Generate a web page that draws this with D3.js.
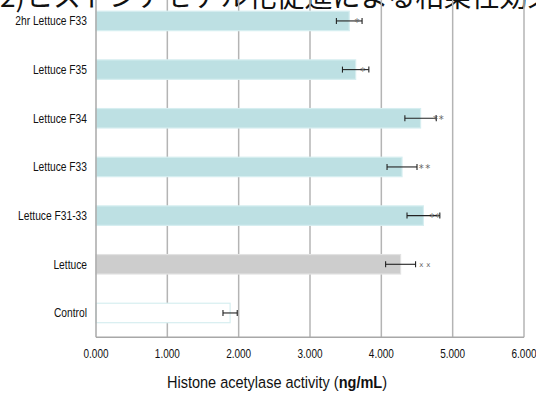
<!DOCTYPE html>
<html>
<head>
<meta charset="utf-8">
<script src="https://cdn.jsdelivr.net/npm/d3@7"></script>
<style>
  body { margin: 0; background: #fff; }
  svg { display: block; }
</style>
</head>
<body>
<svg id="chart" width="536" height="393"></svg>
<script>
// categories, top to bottom
const categories = ["2hr Lettuce F33", "Lettuce F35", "Lettuce F34", "Lettuce F33", "Lettuce F31-33", "Lettuce", "Control"];
const values = [3.55, 3.64, 4.55, 4.29, 4.59, 4.27, 1.88];
const errors = [0.18, 0.185, 0.22, 0.21, 0.23, 0.21, 0.10];
// significance marks: glyph and where each one sits (in ng/mL units)
const markGlyphs = ["*", "*", "*", "*", "*", "x", ""];
const markPos = [[3.66], [3.74], [4.76, 4.84], [4.56, 4.65], [4.71, 4.79], [4.56, 4.66], []];
const xTicks = [0, 1, 2, 3, 4, 5, 6];

const svg = d3.select("#chart");
const sans = "'Liberation Sans', Arial, sans-serif";

const plotLeft = 96, plotRight = 524, plotTop = -3.4, plotBottom = 337.3;

const x = d3.scaleLinear().domain([0, 6]).range([plotLeft, plotRight]);
const y = d3.scaleBand().domain(categories).range([plotTop, plotBottom])
    .paddingInner(0.6).paddingOuter(0.3);

// title (clipped at the top of the picture)
svg.append("text")
    .attr("x", 0)
    .attr("y", 7)
    .attr("font-family", "'Noto Sans CJK JP', sans-serif")
    .attr("font-size", 28)
    .attr("fill", "#111")
    .text("2)ヒストンアセチル化促進による相乗性効果");

// gridlines
svg.append("g").selectAll("line")
    .data(xTicks.slice(1))
    .join("line")
    .attr("x1", d => x(d)).attr("x2", d => x(d))
    .attr("y1", plotTop).attr("y2", plotBottom)
    .attr("stroke", "#b4b4b4")
    .attr("stroke-width", 1.5);

// bars
svg.append("g").selectAll("rect")
    .data(categories)
    .join("rect")
    .attr("x", x(0))
    .attr("y", d => y(d))
    .attr("width", (d, i) => x(values[i]) - x(0))
    .attr("height", y.bandwidth())
    .attr("fill", d => d === "Lettuce" ? "#cdcdcd" : d === "Control" ? "#ffffff" : "#bde0e3")
    .attr("stroke", d => d === "Lettuce" ? "#e2e2e2" : "#d6eef0")
    .attr("stroke-width", 1.2);

// axes lines
svg.append("line")
    .attr("x1", x(0)).attr("x2", x(0))
    .attr("y1", plotTop).attr("y2", plotBottom)
    .attr("stroke", "#a8a8a8").attr("stroke-width", 1.5);
svg.append("line")
    .attr("x1", x(0)).attr("x2", x(6))
    .attr("y1", plotBottom).attr("y2", plotBottom)
    .attr("stroke", "#a8a8a8").attr("stroke-width", 1.5);

// error bars
const eb = svg.append("g").attr("stroke", "#222").attr("stroke-width", 1.1);
categories.forEach((c, i) => {
    const cy = y(c) + y.bandwidth() / 2;
    const x1 = x(values[i] - errors[i]), x2 = x(values[i] + errors[i]);
    eb.append("line").attr("x1", x1).attr("x2", x2).attr("y1", cy).attr("y2", cy);
    eb.append("line").attr("x1", x1).attr("x2", x1).attr("y1", cy - 3).attr("y2", cy + 3);
    eb.append("line").attr("x1", x2).attr("x2", x2).attr("y1", cy - 3).attr("y2", cy + 3);
});

// significance marks
const mk = svg.append("g")
    .attr("font-family", "'DejaVu Sans', sans-serif")
    .attr("fill", "#666")
    .attr("text-anchor", "middle");
categories.forEach((c, i) => {
    const cy = y(c) + y.bandwidth() / 2;
    markPos[i].forEach(p => {
        mk.append("text")
            .attr("x", x(p))
            .attr("y", markGlyphs[i] === "*" ? cy + 5 : cy + 2.5)
            .attr("font-size", markGlyphs[i] === "*" ? 10 : 7)
            .text(markGlyphs[i]);
    });
});

// category labels (condensed)
svg.append("g").selectAll("text")
    .data(categories)
    .join("text")
    .attr("transform", d => `translate(87,${y(d) + y.bandwidth() / 2 + 4.5}) scale(0.82,1)`)
    .attr("text-anchor", "end")
    .attr("font-family", sans)
    .attr("font-size", 12.5)
    .attr("fill", "#111")
    .text(d => d);

// x tick labels
svg.append("g").selectAll("text")
    .data(xTicks)
    .join("text")
    .attr("transform", d => `translate(${x(d)},358) scale(0.8,1)`)
    .attr("text-anchor", "middle")
    .attr("font-family", sans)
    .attr("font-size", 12.5)
    .attr("fill", "#111")
    .text(d => d3.format(".3f")(d));

// x axis title
const xt = svg.append("text")
    .attr("transform", "translate(277,388) scale(0.88,1)")
    .attr("text-anchor", "middle")
    .attr("font-family", sans)
    .attr("font-size", 16.5)
    .attr("fill", "#111");
xt.append("tspan").text("Histone acetylase activity  (");
xt.append("tspan").attr("font-weight", "bold").text("ng/mL");
xt.append("tspan").text(")");
</script>
</body>
</html>
